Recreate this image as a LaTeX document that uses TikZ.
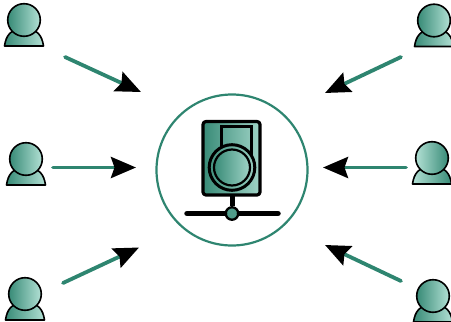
\documentclass[tikz,border=0pt]{standalone}
\usetikzlibrary{arrows.meta,calc}
\definecolor{tealline}{HTML}{2E8570}
\definecolor{tealdark}{HTML}{388B77}
\definecolor{teallight}{HTML}{B2E0D4}
\tikzset{
  x=1pt,y=-1pt,
  link/.style={draw=tealline,line width=3.8pt,line cap=round,-{Stealth[length=25pt,width=21pt,inset=3.5pt,color=black]}},
  ink/.style={draw=black,line join=round},
}
\newcommand{\usericon}[5]{% name, x, y, left colour, right colour
  \coordinate (#1) at (#2,#3);
  \draw[ink,line width=1.6pt,left color=#4,right color=#5]
    ($(#2,#3)+(-19.5,26)$) .. controls ($(#2,#3)+(-18,16)$) and ($(#2,#3)+(-14,9)$) .. ($(#2,#3)+(0,8)$)
    .. controls ($(#2,#3)+(14,9)$) and ($(#2,#3)+(18,16)$) .. ($(#2,#3)+(19.5,26)$) -- cycle;
  \draw[ink,line width=1.6pt,left color=#4,right color=#5] (#2,#3) circle[radius=16.3];
}
\begin{document}
\begin{tikzpicture}
\useasboundingbox (0,0) rectangle (451,322);
\clip (0,0) rectangle (451,322);
\usericon{uTL}{24}{20}{tealdark}{teallight}
\usericon{uML}{26}{159}{tealdark}{teallight}
\usericon{uBL}{25}{294}{tealdark}{teallight}
\usericon{uTR}{434}{20.5}{tealdark}{teallight}
\usericon{uMR}{432}{158}{teallight}{tealdark}
\usericon{uBR}{433}{296}{tealdark}{teallight}
\coordinate (aTLs) at (65,57);\coordinate (aTLe) at (141,92);
\coordinate (aMLs) at (53,167.5);\coordinate (aMLe) at (136,167.5);
\coordinate (aBLs) at (63,283);\coordinate (aBLe) at (139,247.5);
\coordinate (aTRs) at (401,57);\coordinate (aTRe) at (325,93);
\coordinate (aMRs) at (406,167.5);\coordinate (aMRe) at (323,167.5);
\coordinate (aBRs) at (401,281);\coordinate (aBRe) at (325,245);
\foreach \n in {TL,ML,BL,TR,MR,BR}{\draw[link] (a\n s) -- (a\n e);}
\node[circle,draw=tealline,line width=2.2pt,minimum size=151pt,inner sep=0pt] (hub) at (232,170) {};
\draw[ink,line width=3.2pt,rounded corners=3pt,left color=tealdark,right color=teallight!85!tealdark] (203,121.5) rectangle (260,195);
% tab joined to the outer ring
\draw[ink,line width=3pt,line join=miter]
  (221,148) -- (221,126.5) -- (251.5,126.5) -- (251.5,155);
\draw[ink,line width=3pt] (232,167.5) circle[radius=22.8];
\draw[ink,line width=2.2pt,left color=tealdark,right color=teallight!85!tealdark] (232,167.5) circle[radius=18];
\coordinate (stemtop) at (232,196);
\coordinate (barL) at (187,213.5);\coordinate (barR) at (278,213.5);
\node[circle,minimum size=12.5pt,inner sep=0pt,ink,line width=2.3pt,fill=tealdark!80!teallight] (port) at (232,213.5) {};
\draw[ink,line width=5.5pt,line cap=round] (barL) -- (port.west) (port.east) -- (barR);
\draw[ink,line width=5pt] (stemtop) -- (port.north);
\end{tikzpicture}
\end{document}
